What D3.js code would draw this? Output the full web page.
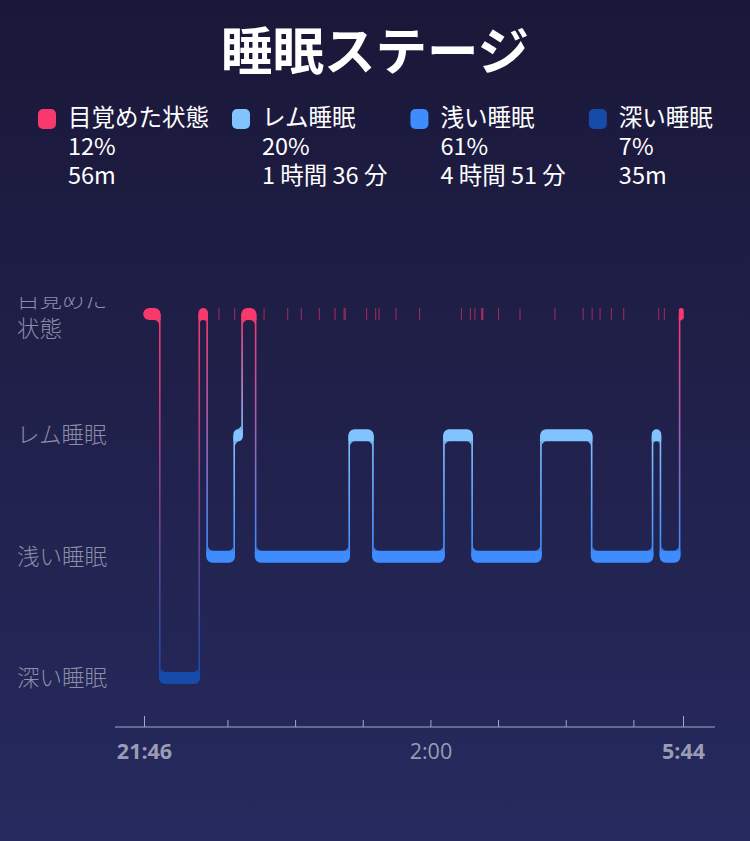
<!DOCTYPE html>
<html>
<head>
<meta charset="utf-8">
<script src="https://cdn.jsdelivr.net/npm/d3@7"></script>
<style>
html, body { margin: 0; padding: 0; background: #1b1839; }
svg { display: block; }
</style>
</head>
<body>
<script>
'use strict';

const width = 750;
const height = 841;

const stageKeys = ['wake', 'rem', 'light', 'deep'];
const stageNames = ['目覚めた状態', 'レム睡眠', '浅い睡眠', '深い睡眠'];
const stageColors = ['#f8396d', '#80c3ff', '#3f8cff', '#164ba9'];
const stagePercents = ['12%', '20%', '61%', '7%'];
const stageDurations = ['56m', '1 時間 36 分', '4 時間 51 分', '35m'];

// hypnogram blocks: start time and stage of each block
const blockStarts = ['21:46', '22:00', '22:35', '22:42', '23:06', '23:13', '23:25', '0:48',
    '1:09', '2:12', '2:37', '3:38', '4:23', '5:17', '5:24', '5:41'];
const blockStages = ['wake', 'deep', 'wake', 'light', 'rem', 'wake', 'light', 'rem',
    'light', 'rem', 'light', 'rem', 'light', 'rem', 'light', 'wake'];
const sleepEnd = '5:44';

// short wakes drawn as thin marks on the top row (start, length in minutes)
const shortWakeStarts = ['22:52', '23:06', '23:32', '23:53', '0:05', '0:21', '0:35', '0:43',
    '0:44', '1:03', '1:11', '1:14', '1:29', '1:50', '2:27', '2:35', '2:39', '2:45', '3:00',
    '3:19', '3:50', '4:15', '4:23', '4:30', '4:40', '4:51', '5:22', '5:27'];
const shortWakeMinutes = [0.5, 0.5, 0.5, 0.5, 0.5, 0.5, 0.5, 0.5,
    0.5, 0.5, 0.5, 0.5, 0.5, 0.5, 0.5, 0.5, 0.5, 2, 0.5,
    0.5, 0.5, 0.5, 0.5, 0.5, 0.5, 0.5, 0.5, 0.5];

const hourTicks = ['23:00', '0:00', '1:00', '2:00', '3:00', '4:00', '5:00'];
const endTicks = ['21:46', '5:44'];
const tickLabels = ['21:46', '2:00', '5:44'];

const fontCJK = '"Noto Sans CJK JP", "Noto Sans", sans-serif';

function toDate(s) {
    let [h, m] = s.split(':').map(Number);
    // evening hours belong to the first day, after midnight to the next
    let day = h >= 12 ? 1 : 2;
    return new Date(2020, 0, day, h, m);
}

let svg = d3.select('body').append('svg').attr('width', width).attr('height', height);
let defs = svg.append('defs');

let bg = defs.append('linearGradient').attr('id', 'bg')
    .attr('x1', 0).attr('y1', 0).attr('x2', 0).attr('y2', 1);
bg.append('stop').attr('offset', 0).attr('stop-color', '#1a1738');
bg.append('stop').attr('offset', 1).attr('stop-color', '#262a5e');
svg.append('rect').attr('width', width).attr('height', height).attr('fill', 'url(#bg)');

// title
svg.append('text')
    .attr('x', width / 2).attr('y', 70)
    .attr('text-anchor', 'middle')
    .attr('fill', '#ffffff')
    .attr('font-family', fontCJK)
    .attr('font-weight', 'bold')
    .attr('font-size', 51.5)
    .text('睡眠ステージ');

// legend, laid out left to right by text width
let legendX = 38;
stageKeys.forEach((key, i) => {
    let g = svg.append('g').attr('transform', 'translate(' + legendX + ',0)');
    g.append('rect')
        .attr('x', 0).attr('y', 109).attr('width', 18).attr('height', 20).attr('rx', 5)
        .attr('fill', stageColors[i]);
    let txt = g.append('text')
        .attr('fill', '#ffffff')
        .attr('font-family', fontCJK)
        .attr('font-size', 23.5);
    let lines = [stageNames[i], stagePercents[i], stageDurations[i]];
    let ys = [126, 155, 184];
    let maxW = 0;
    lines.forEach((t, j) => {
        let ts = txt.append('tspan').attr('x', 30).attr('y', ys[j]).text(t);
        maxW = Math.max(maxW, ts.node().getComputedTextLength());
    });
    legendX += 30 + maxW + 23;
});

const xScale = d3.scaleTime()
    .domain([toDate(blockStarts[0]), toDate(sleepEnd)])
    .range([144, 683]);

const yScale = d3.scalePoint()
    .domain(stageKeys)
    .range([314, 678]);

const colorOf = d3.scaleOrdinal().domain(stageKeys).range(stageColors);

// stage labels on the left, clipped at the top of the plot
defs.append('clipPath').attr('id', 'labelClip')
    .append('rect').attr('x', 0).attr('y', 297).attr('width', 140).attr('height', 420);

let labels = svg.append('g').attr('clip-path', 'url(#labelClip)');
stageKeys.forEach((key, i) => {
    let name = stageNames[i];
    let parts = [];
    for (let k = 0; k < name.length; k += 4) parts.push(name.slice(k, k + 4));
    let lineH = 29.5;
    let y0 = yScale(key) - (parts.length - 1) * lineH / 2;
    let txt = labels.append('text')
        .attr('fill', '#8c8da7')
        .attr('font-family', fontCJK)
        .attr('font-weight', 300)
        .attr('font-size', 22.5);
    parts.forEach((p, j) => {
        txt.append('tspan')
            .attr('x', 17).attr('y', y0 + j * lineH)
            .attr('dy', '0.36em')
            .text(p);
    });
});

const bandH = 12;
const lineW = 1.6;
const cornerR = 6;
const filletR = 5;

let blocks = blockStarts.map((s, i) => ({
    stage: blockStages[i],
    start: toDate(s),
    end: toDate(i < blockStarts.length - 1 ? blockStarts[i + 1] : sleepEnd),
    prev: i > 0 ? blockStages[i - 1] : null,
    next: i < blockStages.length - 1 ? blockStages[i + 1] : null
}));

let plot = svg.append('g');

// connectors between stages, coloured from one stage to the next
blocks.forEach((b, i) => {
    if (!b.prev) return;
    let ya = yScale(b.prev), yb = yScale(b.stage);
    let grad = defs.append('linearGradient').attr('id', 'conn' + i)
        .attr('gradientUnits', 'userSpaceOnUse')
        .attr('x1', 0).attr('x2', 0).attr('y1', ya).attr('y2', yb);
    grad.append('stop').attr('offset', 0).attr('stop-color', colorOf(b.prev));
    grad.append('stop').attr('offset', 1).attr('stop-color', colorOf(b.stage));
    plot.append('rect')
        .attr('x', xScale(b.start) - lineW / 2)
        .attr('width', lineW)
        .attr('y', Math.min(ya, yb))
        .attr('height', Math.abs(yb - ya))
        .attr('fill', 'url(#conn' + i + ')');
});

// short wakes
plot.append('g')
    .attr('fill', colorOf('wake'))
    .attr('fill-opacity', 0.6)
    .selectAll('rect')
    .data(shortWakeStarts.map((s, i) => ({ start: toDate(s), minutes: shortWakeMinutes[i] })))
    .join('rect')
    .attr('x', d => xScale(d.start))
    .attr('width', d => Math.max(1, xScale(new Date(+d.start + d.minutes * 60000)) - xScale(d.start)))
    .attr('y', yScale('wake') - bandH / 2)
    .attr('height', bandH);

function bandPath(x0, x1, yc, tl, tr, br, bl) {
    let y0 = yc - bandH / 2, y1 = yc + bandH / 2;
    let rmax = Math.min(bandH / 2, (x1 - x0) / 2);
    [tl, tr, br, bl] = [tl, tr, br, bl].map(r => Math.min(r, rmax));
    let p = d3.path();
    p.moveTo(x0 + tl, y0);
    p.lineTo(x1 - tr, y0);
    p.arcTo(x1, y0, x1, y0 + tr, tr);
    p.lineTo(x1, y1 - br);
    p.arcTo(x1, y1, x1 - br, y1, br);
    p.lineTo(x0 + bl, y1);
    p.arcTo(x0, y1, x0, y1 - bl, bl);
    p.lineTo(x0, y0 + tl);
    p.arcTo(x0, y0, x0 + tl, y0, tl);
    p.closePath();
    return p.toString();
}

function filletPath(xi, ye, sx, dy, r) {
    let p = d3.path();
    p.moveTo(xi, ye);
    p.lineTo(xi, ye + dy * r);
    p.arcTo(xi, ye, xi + sx * r, ye, r);
    p.closePath();
    return p.toString();
}

// stage bands
blocks.forEach(b => {
    let yc = yScale(b.stage);
    let x0 = xScale(b.start) - lineW / 2;
    let x1 = xScale(b.end) + lineW / 2;
    let leftDir = b.prev ? Math.sign(yScale(b.prev) - yc) : 0;
    let rightDir = b.next ? Math.sign(yScale(b.next) - yc) : 0;
    let tl = leftDir < 0 ? 0 : cornerR;
    let bl = leftDir > 0 ? 0 : cornerR;
    let tr = rightDir < 0 ? 0 : cornerR;
    let br = rightDir > 0 ? 0 : cornerR;
    let col = colorOf(b.stage);

    plot.append('path').attr('d', bandPath(x0, x1, yc, tl, tr, br, bl)).attr('fill', col);

    let inner = x1 - x0 - 2 * lineW;
    let rf = (leftDir && rightDir && leftDir === rightDir)
        ? Math.min(filletR, inner / 2) : Math.min(filletR, inner);
    rf = Math.max(0, rf);
    if (leftDir) {
        let ye = leftDir < 0 ? yc - bandH / 2 : yc + bandH / 2;
        plot.append('path').attr('d', filletPath(x0 + lineW, ye, 1, leftDir, rf)).attr('fill', col);
    }
    if (rightDir) {
        let ye = rightDir < 0 ? yc - bandH / 2 : yc + bandH / 2;
        plot.append('path').attr('d', filletPath(x1 - lineW, ye, -1, rightDir, rf)).attr('fill', col);
    }
});

// time axis
const axisY = 727;
const axisColor = '#a6a8c4';

svg.append('line')
    .attr('x1', 115).attr('x2', 715)
    .attr('y1', axisY).attr('y2', axisY)
    .attr('stroke', axisColor).attr('stroke-width', 1);

let hourAxis = svg.append('g')
    .attr('transform', 'translate(0,' + axisY + ')')
    .call(d3.axisBottom(xScale).tickValues(hourTicks.map(toDate)).tickSize(-7).tickFormat(''));
hourAxis.select('.domain').remove();
hourAxis.selectAll('line').attr('stroke', axisColor);

let endAxis = svg.append('g')
    .attr('transform', 'translate(0,' + axisY + ')')
    .call(d3.axisBottom(xScale).tickValues(endTicks.map(toDate)).tickSize(-11).tickFormat(''));
endAxis.select('.domain').remove();
endAxis.selectAll('line').attr('stroke', axisColor);

let labelAxis = svg.append('g')
    .attr('transform', 'translate(0,' + axisY + ')')
    .call(d3.axisBottom(xScale).tickValues(tickLabels.map(toDate)).tickSize(0)
        .tickFormat(d3.timeFormat('%-H:%M')));
labelAxis.select('.domain').remove();
labelAxis.selectAll('text')
    .attr('y', 32).attr('dy', 0)
    .attr('fill', '#9a9cb4')
    .attr('font-family', '"Open Sans", "Noto Sans", sans-serif')
    .attr('font-size', 21.5)
    .attr('font-weight', d => endTicks.includes(d3.timeFormat('%-H:%M')(d)) ? 'bold' : 'normal');
</script>
</body>
</html>
